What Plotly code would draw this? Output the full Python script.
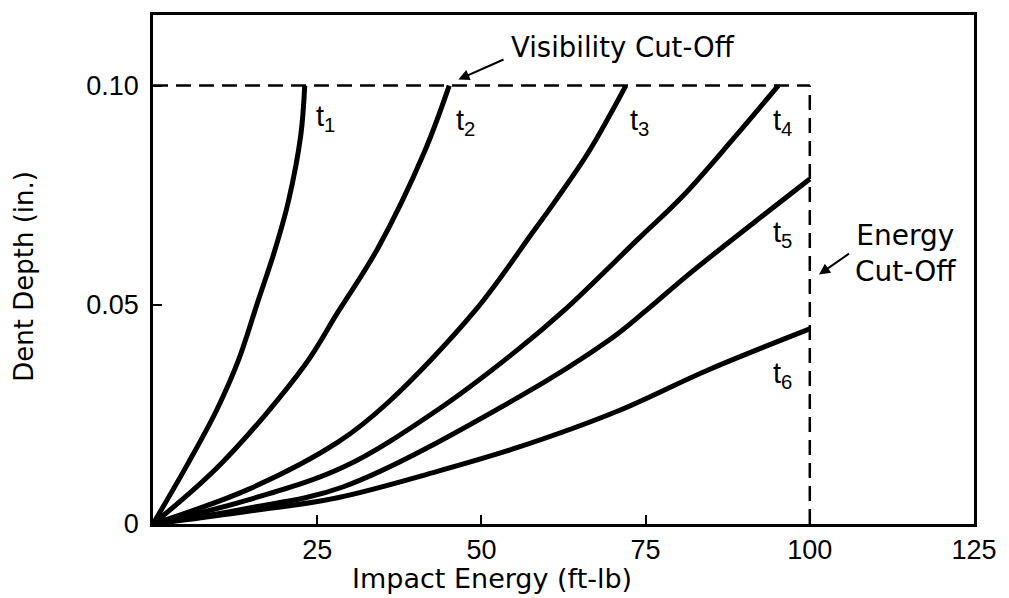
import plotly.graph_objects as go

# Dent depth vs. impact energy for six laminate thicknesses t1..t6
t1_energy = [0, 5.4, 9.7, 13.0, 16.0, 18.5, 20.6, 22.5, 23.1]
t1_depth = [0, 0.014, 0.026, 0.0373, 0.0509, 0.0622, 0.0735, 0.0887, 0.100]

t2_energy = [0, 10.4, 23.1, 28.1, 34.2, 41.3, 45.1]
t2_depth = [0, 0.0138, 0.0362, 0.0482, 0.0628, 0.0848, 0.100]

t3_energy = [0, 14.5, 28.1, 35.7, 49.0, 57.9, 61.4, 66.3, 72.0]
t3_depth = [0, 0.0079, 0.0186, 0.0276, 0.0486, 0.0667, 0.0740, 0.0848, 0.100]

t4_energy = [0, 14.5, 29.0, 43.3, 55.4, 62.5, 74.0, 80.6, 88.2, 95.2]
t4_depth = [0, 0.0055, 0.013, 0.026, 0.0396, 0.0486, 0.0652, 0.0747, 0.0876, 0.100]

t5_energy = [0, 14.5, 29.0, 55.4, 69.4, 75.0, 81.6, 91.7, 100]
t5_depth = [0, 0.0036, 0.0085, 0.0287, 0.0419, 0.0486, 0.057, 0.069, 0.0787]

t6_energy = [0, 14.0, 28.1, 43.3, 55.4, 70.5, 84.6, 100]
t6_depth = [0, 0.0028, 0.0060, 0.0120, 0.0174, 0.0256, 0.0352, 0.0445]

series_names = ["t1", "t2", "t3", "t4", "t5", "t6"]
series_labels = ["t<sub>1</sub>", "t<sub>2</sub>", "t<sub>3</sub>",
                 "t<sub>4</sub>", "t<sub>5</sub>", "t<sub>6</sub>"]
energies = [t1_energy, t2_energy, t3_energy, t4_energy, t5_energy, t6_energy]
depths = [t1_depth, t2_depth, t3_depth, t4_depth, t5_depth, t6_depth]

# label anchor points (energy, depth) for each curve label
label_x = [26.3, 47.6, 74.0, 95.9, 95.9, 95.9]
label_y = [0.0925, 0.0918, 0.0916, 0.0918, 0.0662, 0.034]

visibility_cutoff = 0.10   # in.
energy_cutoff = 100        # ft-lb

x_ticks = [25, 50, 75, 100, 125]
y_ticks = [0, 0.05, 0.10]
y_ticktext = ["0", "0.05", "0.10"]

WORD_FONT = "DejaVu Sans"
NUM_FONT = "Liberation Sans"

fig = go.Figure()

for name, ex, dy in zip(series_names, energies, depths):
    fig.add_trace(go.Scatter(
        x=ex, y=dy, mode="lines", name=name,
        line=dict(color="black", width=5, shape="spline", smoothing=1.0),
        showlegend=False, hoverinfo="skip",
    ))

# dashed cut-off boundaries
fig.add_shape(type="line", xref="x", yref="y",
              x0=0, x1=energy_cutoff, y0=visibility_cutoff, y1=visibility_cutoff,
              line=dict(color="black", width=2.5, dash="15px,8px"))
fig.add_shape(type="line", xref="x", yref="y",
              x0=energy_cutoff, x1=energy_cutoff, y0=0, y1=visibility_cutoff,
              line=dict(color="black", width=2.5, dash="15px,8px"))

annotations = []
for lbl, lx, ly in zip(series_labels, label_x, label_y):
    annotations.append(dict(
        x=lx, y=ly, xref="x", yref="y", text=lbl, showarrow=False,
        font=dict(family=NUM_FONT, size=29, color="black"),
        xanchor="center", yanchor="middle",
    ))

# cut-off callouts
annotations.append(dict(
    x=46.5, y=0.1014, ax=53.6, ay=0.1061, axref="x", ayref="y",
    xref="x", yref="y", text="", showarrow=True,
    arrowhead=2, arrowsize=1.1, arrowwidth=2, arrowcolor="black",
))
annotations.append(dict(
    x=54.2, y=0.1088, xref="x", yref="y", text="Visibility Cut-Off",
    showarrow=False, xanchor="left", yanchor="middle",
    font=dict(family=WORD_FONT, size=27.5, color="black"),
))
annotations.append(dict(
    x=101.4, y=0.0569, ax=106.2, ay=0.0619, axref="x", ayref="y",
    xref="x", yref="y", text="", showarrow=True,
    arrowhead=2, arrowsize=1.1, arrowwidth=2, arrowcolor="black",
))
annotations.append(dict(
    x=114.6, y=0.0617, xref="x", yref="y", text="Energy<br>Cut-Off",
    showarrow=False, xanchor="center", yanchor="middle", align="center",
    font=dict(family=WORD_FONT, size=28, color="black"),
))

# axis titles
annotations.append(dict(
    x=0.413, y=-0.107, xref="paper", yref="paper", text="Impact Energy (ft-lb)",
    showarrow=False, xanchor="center", yanchor="middle",
    font=dict(family=WORD_FONT, size=27, color="black"),
))
annotations.append(dict(
    x=-0.157, y=0.486, xref="paper", yref="paper", text="Dent Depth (in.)",
    showarrow=False, xanchor="center", yanchor="middle", textangle=-90,
    font=dict(family=WORD_FONT, size=26, color="black"),
))

fig.update_layout(
    width=1009, height=598,
    margin=dict(l=153, r=30, t=12, b=74),
    paper_bgcolor="white", plot_bgcolor="white",
    annotations=annotations,
    xaxis=dict(
        range=[0, 125], tickvals=x_ticks, ticks="inside", ticklen=9,
        tickwidth=2, tickcolor="black",
        showline=True, linewidth=2.5, linecolor="black", mirror=True,
        showgrid=False, zeroline=False,
        tickfont=dict(family=NUM_FONT, size=27, color="black"),
        ticklabelstandoff=0,
    ),
    yaxis=dict(
        range=[0, 0.1161], tickvals=y_ticks, ticktext=y_ticktext,
        ticks="inside", ticklen=9, tickwidth=2, tickcolor="black",
        showline=True, linewidth=2.5, linecolor="black", mirror=True,
        showgrid=False, zeroline=False,
        tickfont=dict(family=NUM_FONT, size=27, color="black"),
        ticklabelstandoff=6,
    ),
)

fig.write_html("out.html")
